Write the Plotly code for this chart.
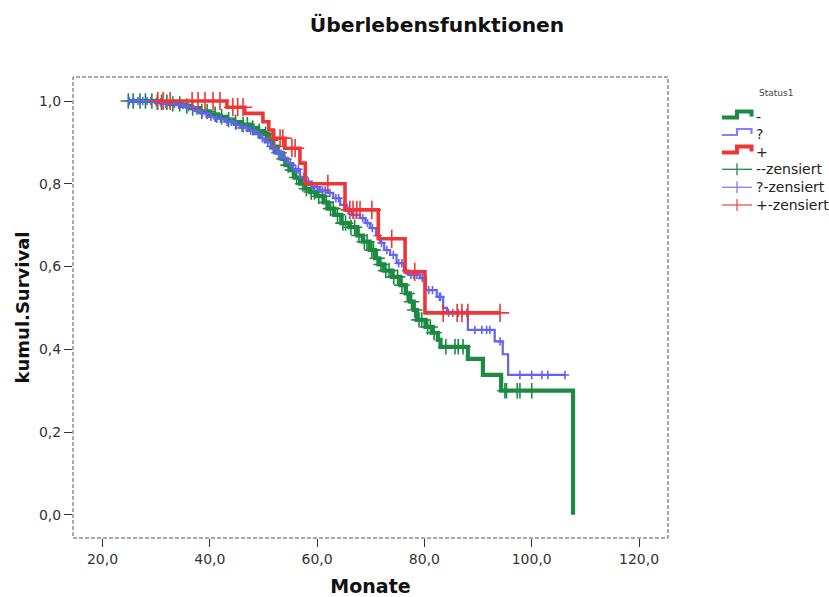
import numpy as np
import plotly.graph_objects as go

# Kaplan-Meier estimates per Status1 group: event times and survival after each event
green_start = 24.8
green_event_times = [30.0, 32.5, 34.5, 36.5, 38.0, 40.0, 41.5, 43.0, 44.5, 46.0, 47.5, 48.8,
                     50.0, 50.8, 51.7, 52.5, 53.5, 54.3, 55.0, 55.8, 56.8, 57.8, 58.7, 60.0,
                     61.2, 62.0, 63.2, 64.5, 66.0, 67.5, 68.5, 69.8, 70.8, 71.5, 72.5, 74.0,
                     75.5, 76.5, 77.3, 78.0, 78.6, 80.2, 81.5, 82.5, 83.0, 88.1, 90.9, 94.3,
                     107.7]
green_surv = [0.997, 0.993, 0.988, 0.983, 0.975, 0.968, 0.962, 0.955, 0.949, 0.943, 0.935, 0.927,
              0.920, 0.905, 0.890, 0.875, 0.860, 0.845, 0.833, 0.815, 0.800, 0.788, 0.780, 0.770,
              0.755, 0.740, 0.725, 0.705, 0.695, 0.675, 0.660, 0.640, 0.620, 0.605, 0.590, 0.575,
              0.555, 0.535, 0.515, 0.495, 0.471, 0.454, 0.440, 0.423, 0.406, 0.377, 0.338, 0.300,
              0.0]
green_end = 107.7
green_censored = [24.8, 25.7, 27.0, 28.0, 29.2, 30.2, 31.0, 32.0, 33.1, 34.4, 35.7, 36.8, 38.5,
                  39.5, 41.0, 42.2, 43.5, 44.8, 46.2, 47.0, 48.0, 49.2, 50.4, 51.3, 52.0, 52.9,
                  53.8, 54.6, 55.4, 56.2, 57.3, 58.0, 58.9, 59.5, 60.3, 61.0, 61.7, 62.5, 63.0,
                  63.8, 64.8, 65.3, 66.3, 67.0, 67.8, 68.8, 69.3, 70.2, 70.5, 71.2, 71.9, 72.8,
                  73.4, 74.3, 75.0, 75.8, 76.8, 77.6, 78.2, 79.0, 79.5, 80.6, 81.1, 81.8, 84.0,
                  85.7, 86.3, 87.2, 95.0, 95.3, 97.3, 97.8, 100.0]

blue_start = 24.8
blue_event_times = [29.5, 31.5, 33.5, 35.4, 37.0, 38.2, 39.5, 41.0, 42.8, 44.5, 45.6, 47.0,
                    48.4, 49.5, 50.3, 51.5, 52.5, 53.5, 54.5, 55.5, 56.8, 58.0, 59.0, 60.5,
                    62.0, 63.0, 64.3, 65.5, 66.5, 68.0, 69.0, 69.9, 71.0, 71.7, 72.5, 73.6,
                    74.8, 76.2, 77.0, 79.2, 80.3, 82.3, 83.5, 84.2, 88.1, 93.1, 94.6, 95.6]
blue_surv = [0.997, 0.993, 0.990, 0.985, 0.977, 0.970, 0.962, 0.957, 0.950, 0.942, 0.935, 0.928,
             0.920, 0.910, 0.900, 0.885, 0.873, 0.862, 0.850, 0.835, 0.816, 0.805, 0.792, 0.784,
             0.778, 0.765, 0.749, 0.735, 0.725, 0.717, 0.705, 0.693, 0.675, 0.657, 0.640, 0.628,
             0.608, 0.590, 0.580, 0.572, 0.543, 0.527, 0.500, 0.488, 0.447, 0.419, 0.388, 0.338]
blue_end = 106.2
blue_censored = [25.0, 25.8, 26.6, 27.5, 28.3, 29.0, 30.0, 30.8, 31.8, 32.6, 33.4, 34.2, 35.0,
                 36.0, 36.8, 37.6, 38.6, 39.3, 40.2, 41.3, 42.0, 43.2, 44.0, 45.0, 46.0, 46.8,
                 47.6, 48.2, 49.0, 49.8, 50.8, 51.8, 52.8, 53.3, 54.0, 55.0, 56.0, 56.5, 57.5,
                 58.4, 59.5, 60.0, 61.0, 61.5, 62.4, 63.5, 64.0, 65.0, 65.8, 66.8, 67.3, 68.5,
                 69.4, 70.3, 71.3, 72.0, 73.0, 74.2, 75.2, 75.8, 76.6, 77.5, 78.0, 78.6, 79.6,
                 80.8, 81.5, 82.8, 83.0, 84.5, 85.3, 86.3, 87.0, 87.9, 89.4, 90.7, 91.6, 92.2,
                 94.1, 97.8, 100.0, 101.9, 103.0, 106.2]

red_start = 30.3
red_event_times = [43.2, 46.5, 49.9, 51.0, 51.8, 54.0, 56.8, 57.8, 65.2, 71.4, 76.4, 80.1]
red_surv = [0.985, 0.970, 0.950, 0.930, 0.910, 0.886, 0.850, 0.800, 0.737, 0.667, 0.587, 0.488]
red_end = 94.1
red_censored = [30.3, 31.3, 32.6, 36.7, 37.8, 39.1, 40.6, 41.9, 44.3, 45.2, 46.2, 52.1, 53.1,
                53.6, 55.3, 55.9, 62.0, 66.1, 66.7, 67.4, 68.0, 70.2, 73.9, 78.2, 83.5, 86.1,
                87.0, 88.1, 94.1]

group_labels = ["-", "?", "+"]
x_ticks = [20, 40, 60, 80, 100, 120]
y_ticks = [0.0, 0.2, 0.4, 0.6, 0.8, 1.0]

GREEN = "#1c8a42"
BLUE = "#6262f6"
RED = "#ee3636"
LEGEND_BLUE = "#8080ff"
LEGEND_RED = "#f05050"
FONT = "DejaVu Sans, Verdana, sans-serif"

W, H = 829, 597
ML, MR, MT, MB = 73, 161, 77, 59
PLOT_W, PLOT_H = W - ML - MR, H - MT - MB


def step_xy(start, times, surv, end):
    xs = [start] + list(times)
    ys = [1.0] + list(surv)
    if end > xs[-1]:
        xs.append(end)
        ys.append(ys[-1])
    return xs, ys


def surv_at(t, times, surv):
    idx = np.searchsorted(np.asarray(times), np.asarray(t), side="right") - 1
    vals = np.concatenate([[1.0], np.asarray(surv)])
    return vals[idx + 1]


def px(x):
    return (x - ML) / PLOT_W


def py(y):
    return (H - MB - y) / PLOT_H


fig = go.Figure()

groups = [
    (group_labels[0], GREEN, 4.2, 11, green_start, green_event_times, green_surv, green_end, green_censored),
    (group_labels[1], BLUE, 2.2, 6, blue_start, blue_event_times, blue_surv, blue_end, blue_censored),
    (group_labels[2], RED, 3.6, 13, red_start, red_event_times, red_surv, red_end, red_censored),
]

for name, color, lw, msize, start, times, surv, end, cens in groups:
    xs, ys = step_xy(start, times, surv, end)
    fig.add_trace(go.Scatter(
        x=xs, y=ys, mode="lines", name=name, showlegend=False,
        line=dict(color=color, width=lw, shape="hv"),
    ))
    fig.add_trace(go.Scatter(
        x=cens, y=surv_at(cens, times, surv), mode="markers", name=name + "-zensiert",
        showlegend=False,
        marker=dict(symbol="cross-thin", size=msize, line=dict(color=color, width=1.6)),
    ))

# Legend in SPSS style: step glyphs for the curves, crosses for censored cases
shapes = [dict(type="rect", xref="paper", yref="paper", x0=0, y0=0, x1=1, y1=1,
               line=dict(color="#555555", width=1, dash="4px,2px"), layer="above")]
annotations = [dict(text="Status1", xref="paper", yref="paper", x=px(757), y=py(93),
                    xanchor="left", yanchor="middle", showarrow=False,
                    font=dict(size=9, color="#444444", family=FONT))]

line_rows = [(group_labels[0], GREEN, 4.0, 117.5), (group_labels[1], LEGEND_BLUE, 2.2, 135.0),
             (group_labels[2], RED, 4.0, 152.5)]
for label, color, lw, yb in line_rows:
    yt = yb - 6
    path = (f"M {px(722)},{py(yb)} L {px(737)},{py(yb)} L {px(737)},{py(yt)} "
            f"L {px(751.5)},{py(yt)} L {px(751.5)},{py(yb - 1)}")
    shapes.append(dict(type="path", xref="paper", yref="paper", path=path,
                       line=dict(color=color, width=lw)))
    annotations.append(dict(text=label, xref="paper", yref="paper", x=px(754), y=py(yb - 1),
                            xanchor="left", yanchor="middle", showarrow=False,
                            font=dict(size=14, color="#222222", family=FONT)))

cross_rows = [(group_labels[0] + "-zensiert", GREEN, 169.3), (group_labels[1] + "-zensiert", LEGEND_BLUE, 187.3),
              (group_labels[2] + "-zensiert", LEGEND_RED, 205.0)]
for label, color, yc in cross_rows:
    shapes.append(dict(type="line", xref="paper", yref="paper", x0=px(722), x1=px(752),
                       y0=py(yc), y1=py(yc), line=dict(color=color, width=1.3)))
    shapes.append(dict(type="line", xref="paper", yref="paper", x0=px(737), x1=px(737),
                       y0=py(yc - 6), y1=py(yc + 6), line=dict(color=color, width=1.3)))
    annotations.append(dict(text=label, xref="paper", yref="paper", x=px(754), y=py(yc),
                            xanchor="left", yanchor="middle", showarrow=False,
                            font=dict(size=14, color="#222222", family=FONT)))

axis_font = dict(family=FONT, size=14, color="#333333")

fig.update_layout(
    width=W, height=H,
    margin=dict(l=ML, r=MR, t=MT, b=MB, autoexpand=False),
    paper_bgcolor="white", plot_bgcolor="white",
    font=dict(family=FONT, color="#222222"),
    showlegend=False,
    title=dict(text="<b>Überlebensfunktionen</b>", x=437 / W, xanchor="center",
               y=1 - 25 / H, yanchor="middle",
               font=dict(size=20.3, color="#111111")),
    xaxis=dict(range=[14.5, 125.4], tickvals=x_ticks,
               ticktext=[f"{v},0" for v in x_ticks],
               ticks="outside", ticklen=8, tickcolor="#333333", showgrid=False,
               zeroline=False, showline=False, tickfont=axis_font, automargin=False,
               title=dict(text="<b>Monate</b>", font=dict(size=19, color="#111111"), standoff=17)),
    yaxis=dict(range=[-0.056, 1.058], tickvals=y_ticks,
               ticktext=[f"{v:.1f}".replace(".", ",") for v in y_ticks],
               ticks="outside", ticklen=8, tickcolor="#333333", showgrid=False,
               zeroline=False, showline=False, tickfont=axis_font, automargin=False,
               title=dict(text="<b>kumul.Survival</b>", font=dict(size=18, color="#111111"), standoff=4)),
    shapes=shapes,
    annotations=annotations,
)

fig.write_html("out.html")
